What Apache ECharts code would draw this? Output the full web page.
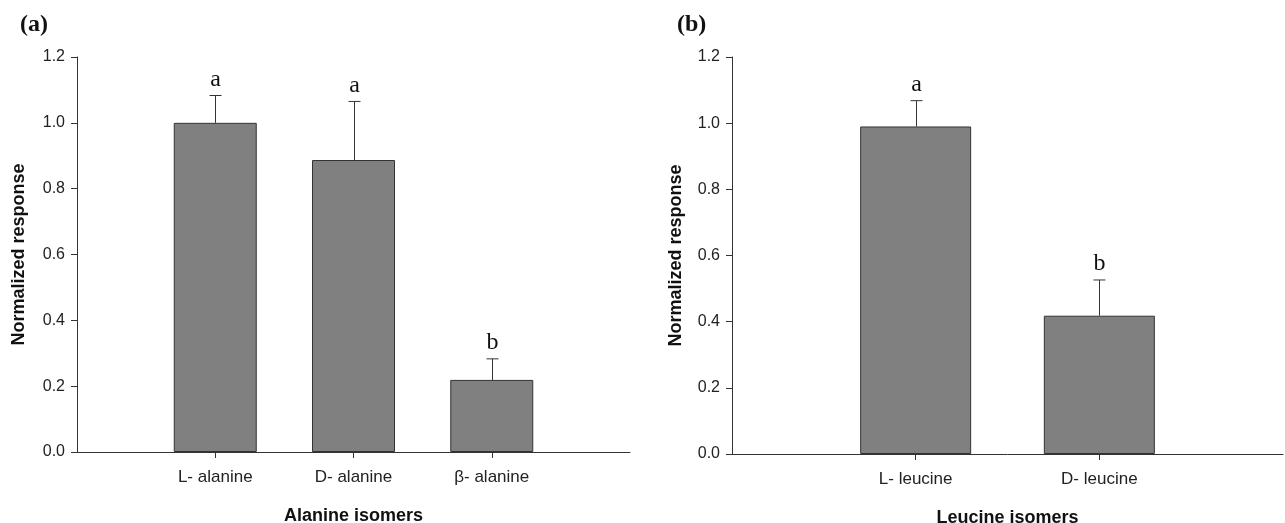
<!DOCTYPE html>
<html>
<head>
<meta charset="utf-8">
<script src="https://cdn.jsdelivr.net/npm/echarts@6/dist/echarts.min.js"></script>
<style>
  html, body { margin: 0; padding: 0; background: #fff; }
  #ech { width: 1285px; height: 523px; }
</style>
</head>
<body>
<div id="ech"></div>
<script>
// data
var alanineNames = ['L- alanine', 'D- alanine', 'β- alanine'];
var alanineMean = [1.0, 0.887, 0.219];
var alanineErr = [0.083, 0.178, 0.064];
var alanineLetters = ['a', 'a', 'b'];

var leucineNames = ['L- leucine', 'D- leucine'];
var leucineMean = [0.99, 0.418];
var leucineErr = [0.078, 0.108];
var leucineLetters = ['a', 'b'];

var yTicks = [0, 0.2, 0.4, 0.6, 0.8, 1.0, 1.2];

var lineCol = '#333';
var txtCol = '#222';
var sans = 'Liberation Sans, Arial, sans-serif';
var serif = 'Liberation Serif, Times New Roman, serif';

function pos(arr) {
    return arr.map(function (v, i) { return i + 1; });
}

function xAxis(idx, names, max, title) {
    return {
        type: 'value', gridIndex: idx, min: 0, max: max,
        name: title, nameLocation: 'middle', nameGap: 55,
        nameTextStyle: { fontFamily: sans, fontSize: 18, fontWeight: 'bold', color: '#111' },
        axisLine: { lineStyle: { color: lineCol, width: 1 } },
        axisTick: { show: true, length: 6, customValues: pos(names), lineStyle: { color: lineCol } },
        axisLabel: {
            customValues: pos(names), margin: 17,
            fontFamily: sans, fontSize: 17, color: txtCol,
            formatter: function (v) { return names[Math.round(v) - 1] || ''; }
        },
        splitLine: { show: false }
    };
}

function yAxis(idx, gap) {
    return {
        type: 'value', gridIndex: idx, min: 0, max: 1.2, interval: 0.2,
        name: 'Normalized response', nameLocation: 'middle', nameGap: gap,
        nameTextStyle: { fontFamily: sans, fontSize: 18, fontWeight: 'bold', color: '#111' },
        axisLine: { show: true, lineStyle: { color: lineCol, width: 1 } },
        axisTick: { show: true, length: 6, lineStyle: { color: lineCol } },
        axisLabel: {
            margin: 12, fontFamily: sans, fontSize: 16, color: txtCol,
            formatter: function (v) { return v.toFixed(1); }
        },
        splitLine: { show: false }
    };
}

function barSeries(idx, means, width) {
    return {
        type: 'bar', xAxisIndex: idx, yAxisIndex: idx, barWidth: width,
        data: means.map(function (m, i) { return [i + 1, m]; }),
        itemStyle: { color: '#808080', borderColor: lineCol, borderWidth: 1 },
        silent: true
    };
}

function errSeries(idx, means, errs, letters) {
    return {
        type: 'custom', xAxisIndex: idx, yAxisIndex: idx, silent: true, z: 5,
        data: means.map(function (m, i) { return [i + 1, m, m + errs[i]]; }),
        renderItem: function (params, api) {
            var i = params.dataIndex;
            var b = api.coord([api.value(0), api.value(1)]);
            var t = api.coord([api.value(0), api.value(2)]);
            var x = Math.round(b[0]) + 0.5;
            var st = { stroke: lineCol, lineWidth: 1 };
            return {
                type: 'group',
                children: [
                    { type: 'line', shape: { x1: x, y1: b[1], x2: x, y2: t[1] }, style: st },
                    { type: 'line', shape: { x1: x - 6, y1: t[1], x2: x + 6, y2: t[1] }, style: st },
                    {
                        type: 'text',
                        style: {
                            text: letters[i], x: x, y: t[1] - 4,
                            align: 'center', verticalAlign: 'bottom',
                            font: '24px ' + serif, fill: '#111'
                        }
                    }
                ]
            };
        }
    };
}

var ownChart = echarts.init(document.getElementById('ech'));
var option = {
    animation: false,
    backgroundColor: '#fff',
    title: [
        { text: '(a)', left: 15, top: 8, textStyle: { fontFamily: serif, fontSize: 24, fontWeight: 'bold', color: '#111' } },
        { text: '(b)', left: 672, top: 8, textStyle: { fontFamily: serif, fontSize: 24, fontWeight: 'bold', color: '#111' } }
    ],
    grid: [
        { left: 77, right: 655, top: 57, bottom: 71, outerBoundsMode: 'none' },
        { left: 732, right: 2, top: 57, bottom: 69, outerBoundsMode: 'none' }
    ],
    xAxis: [
        xAxis(0, alanineNames, 4, 'Alanine isomers'),
        xAxis(1, leucineNames, 3, 'Leucine isomers')
    ],
    yAxis: [yAxis(0, 49), yAxis(1, 47)],
    series: [
        barSeries(0, alanineMean, 83),
        errSeries(0, alanineMean, alanineErr, alanineLetters),
        barSeries(1, leucineMean, 111),
        errSeries(1, leucineMean, leucineErr, leucineLetters)
    ]
};
ownChart.setOption(option);
</script>
</body>
</html>
